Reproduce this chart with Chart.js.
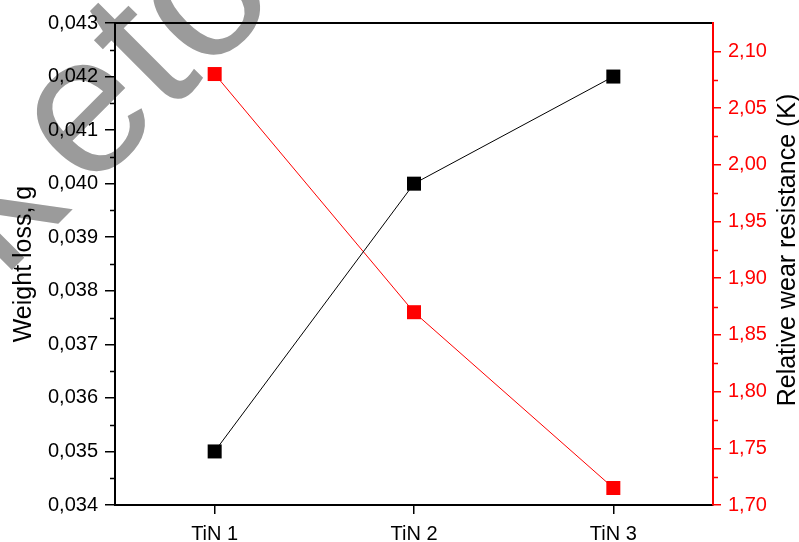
<!DOCTYPE html>
<html>
<head>
<meta charset="utf-8">
<script src="https://cdn.jsdelivr.net/npm/chart.js@4/dist/chart.umd.min.js"></script>
<style>
  html, body { margin: 0; padding: 0; background: #fff; }
  canvas { display: block; }
</style>
</head>
<body>
<canvas id="chart" width="799" height="542"></canvas>
<script>
// Coating samples
const categories = ['TiN 1', 'TiN 2', 'TiN 3'];
// Weight loss, g (left axis)
const weightLoss = [0.035, 0.040, 0.042];
// Relative wear resistance K (right axis)
const wearResistance = [2.08, 1.87, 1.715];
// Axis ranges: [min, max, major step]
const lossAxis = [0.034, 0.043, 0.001];
const wearAxis = [1.70, 2.125, 0.05];

const FONT = "'Liberation Sans', Arial, sans-serif";
const RED = '#ff0000';

// Background and faint stamp lettering behind the plot
const backdrop = {
  id: 'backdrop',
  beforeDraw(chart) {
    const ctx = chart.ctx;
    ctx.save();
    ctx.fillStyle = '#fff';
    ctx.fillRect(0, 0, chart.width, chart.height);
    ctx.translate(18, 264);
    ctx.rotate(-Math.PI / 4);
    ctx.fillStyle = '#9b9b9b';
    ctx.font = '198px ' + FONT;
    ctx.textBaseline = 'alphabetic';
    const kWidth = ctx.measureText('k').width;
    ctx.fillText('k', -22, 0);
    ctx.fillText('eto', kWidth, 0);
    ctx.restore();
  }
};

// Minor ticks halfway between the labelled ones, plus the right-hand title
const axisExtras = {
  id: 'axisExtras',
  afterDraw(chart) {
    const ctx = chart.ctx;
    const y = chart.scales.y, y2 = chart.scales.y2;
    ctx.save();
    ctx.lineWidth = 1.5;
    ctx.strokeStyle = '#000';
    ctx.beginPath();
    for (let i = 0; lossAxis[0] + (i + 0.5) * lossAxis[2] < lossAxis[1]; i++) {
      const p = Math.round(y.getPixelForValue(lossAxis[0] + (i + 0.5) * lossAxis[2])) + 0.5;
      ctx.moveTo(y.right - 5, p);
      ctx.lineTo(y.right, p);
    }
    ctx.stroke();
    ctx.strokeStyle = RED;
    ctx.beginPath();
    for (let i = 0; wearAxis[0] + (i + 0.5) * wearAxis[2] < wearAxis[1] - 1e-9; i++) {
      const p = Math.round(y2.getPixelForValue(wearAxis[0] + (i + 0.5) * wearAxis[2])) + 0.5;
      ctx.moveTo(y2.left, p);
      ctx.lineTo(y2.left + 5, p);
    }
    ctx.stroke();

    ctx.translate(788, 250);
    ctx.rotate(-Math.PI / 2);
    ctx.fillStyle = '#000';
    ctx.font = '25px ' + FONT;
    ctx.textAlign = 'center';
    ctx.textBaseline = 'middle';
    ctx.fillText('Relative wear resistance (K)', 0, 0);
    ctx.restore();
  }
};

const commaFmt = (digits) => (v) => Number(v).toFixed(digits).replace('.', ',');

new Chart(document.getElementById('chart'), {
  type: 'line',
  data: {
    labels: categories,
    datasets: [
      {
        label: 'Weight loss',
        data: weightLoss,
        yAxisID: 'y',
        borderColor: '#000',
        backgroundColor: '#000',
        borderWidth: 1,
        pointStyle: 'rect',
        pointRadius: 9.9,
        pointBorderWidth: 0,
        pointHoverRadius: 9.9
      },
      {
        label: 'Relative wear resistance',
        data: wearResistance,
        yAxisID: 'y2',
        borderColor: RED,
        backgroundColor: RED,
        borderWidth: 1,
        pointStyle: 'rect',
        pointRadius: 9.9,
        pointBorderWidth: 0,
        pointHoverRadius: 9.9
      }
    ]
  },
  options: {
    responsive: false,
    animation: false,
    events: [],
    layout: { padding: 0, autoPadding: false },
    plugins: {
      legend: { display: false },
      tooltip: { enabled: false }
    },
    scales: {
      x: {
        type: 'category',
        position: 'bottom',
        offset: true,
        afterFit(s) { s.height = 37; },
        grid: { offset: false, drawOnChartArea: false, drawTicks: true, tickLength: 9, color: '#000', lineWidth: 1.5 },
        border: { display: true, color: '#000', width: 2 },
        ticks: { color: '#000', padding: 8, font: { family: FONT, size: 20 } }
      },
      x2: {
        type: 'category',
        position: 'top',
        offset: true,
        afterFit(s) { s.height = 23; },
        grid: { display: false },
        border: { display: true, color: '#000', width: 2 },
        ticks: { display: false }
      },
      y: {
        type: 'linear',
        position: 'left',
        min: lossAxis[0],
        max: lossAxis[1],
        afterFit(s) { s.width = 115; },
        grid: { drawOnChartArea: false, drawTicks: true, tickLength: 10, color: '#000', lineWidth: 1.5 },
        border: { display: true, color: '#000', width: 2 },
        ticks: { stepSize: lossAxis[2], includeBounds: false, color: '#000', padding: 7, font: { family: FONT, size: 20 }, callback: commaFmt(3) },
        title: { display: true, text: 'Weight loss, g', color: '#000', padding: { top: 9, bottom: 0 }, font: { family: FONT, size: 25 } }
      },
      y2: {
        type: 'linear',
        position: 'right',
        min: wearAxis[0],
        max: wearAxis[1],
        afterFit(s) { s.width = 86; },
        grid: { drawOnChartArea: false, drawTicks: true, tickLength: 8, color: RED, lineWidth: 1.5 },
        border: { display: true, color: RED, width: 2 },
        ticks: { stepSize: wearAxis[2], includeBounds: false, color: RED, padding: 7, font: { family: FONT, size: 20 }, callback: commaFmt(2) }
      }
    }
  },
  plugins: [backdrop, axisExtras]
});
</script>
</body>
</html>
